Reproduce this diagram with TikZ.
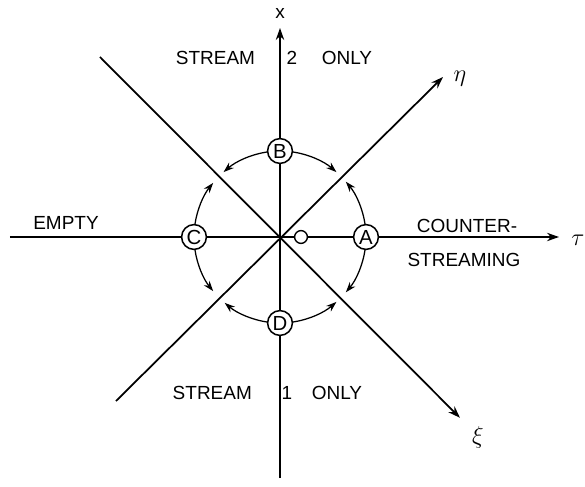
\documentclass[tikz,border=0pt]{standalone}
\usepackage{fontspec}
\setmainfont{Liberation Sans}
\usetikzlibrary{arrows.meta}

\tikzset{
  axis/.style={line width=1.25pt,-{Stealth[length=3mm,width=2.1mm]}},
  cyc/.style={line width=0.9pt,-{Stealth[length=2.6mm,width=1.8mm]}},
  pt/.style={circle,draw,line width=1.1pt,fill=white,minimum size=0.62cm,inner sep=0pt,font=\fontsize{14.5}{14.5}\selectfont},
  lbl/.style={font=\fontsize{13.5}{15}\selectfont},
  greek/.style={font=\fontsize{16}{16}\selectfont},
}

\begin{document}
\begin{tikzpicture}

  \useasboundingbox (-7,-6.25) rectangle (7.625,5.925);

  % axes
  \coordinate (o) at (0,0);
  \coordinate (xbot) at (0,-6.03);
  \coordinate (xtip) at (0,5.225);
  \coordinate (tleft) at (-6.75,0);
  \coordinate (ttip) at (6.975,0);
  \coordinate (etabot) at (-4.1,-4.1);
  \coordinate (etatip) at (4.075,4.0);
  \coordinate (xitop) at (-4.5,4.5);
  \coordinate (xitip) at (4.5,-4.52);
  \draw[axis] (xbot) -- (xtip);
  \draw[axis] (tleft) -- (ttip);
  \draw[axis] (etabot) -- (etatip);
  \draw[axis] (xitop) -- (xitip);
  \node[lbl] (xlab) at (0,5.6) {x};
  \node[greek] (tlab) at (7.45,-0.08) {$\tau$};
  \node[greek] (etalab) at (4.5,3.95) {$\eta$};
  \node[greek] (xilab) at (4.95,-5.0) {$\xi$};

  % cycle round the states
  \foreach \a/\b in {98/131, 82/49, 8/40, -8/-40, 172/141, 188/219, 262/230, 278/311}
    \draw[cyc] (\a:2.15) arc[start angle=\a, end angle=\b, radius=2.15];

  \node[pt] (A) at (0:2.15) {A};
  \node[pt] (B) at (90:2.15) {B};
  \node[pt] (C) at (180:2.15) {C};
  \node[pt] (D) at (270:2.15) {D};
  \node[circle,draw,line width=1pt,fill=white,minimum size=0.32cm,inner sep=0pt] (orig) at (0.525,0) {};

  % regions
  \node[lbl,anchor=east] (str2) at (-0.5,4.475) {STREAM};
  \node[lbl] (two) at (0.3,4.475) {2};
  \node[lbl] (only2) at (1.675,4.475) {ONLY};
  \node[lbl,anchor=east] (str1) at (-0.58,-3.9) {STREAM};
  \node[lbl] (one) at (0.175,-3.9) {1};
  \node[lbl] (only1) at (1.425,-3.9) {ONLY};
  \node[lbl] (empty) at (-5.35,0.35) {EMPTY};
  \node[lbl] (counter) at (4.675,0.27) {COUNTER-};
  \node[lbl] (streaming) at (4.6,-0.575) {STREAMING};

\end{tikzpicture}
\end{document}
